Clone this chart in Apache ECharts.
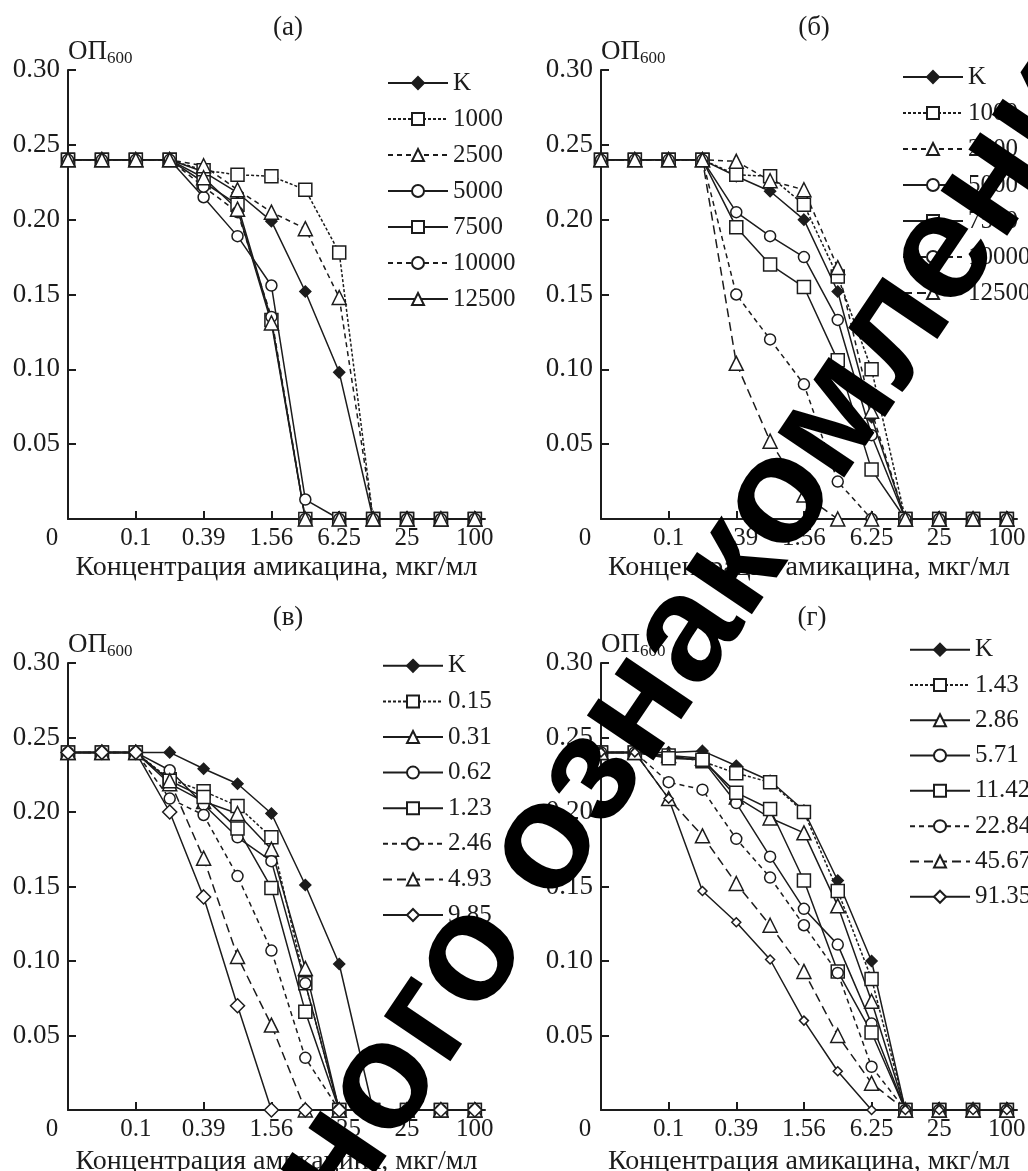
<!DOCTYPE html>
<html lang="ru">
<head>
<meta charset="UTF-8">
<title>ОП600 – амикацин</title>
<script src="https://cdn.jsdelivr.net/npm/echarts@6/dist/echarts.min.js"></script>
<style>
  html, body { margin: 0; padding: 0; background: #fff; }
  #chart { width: 1028px; height: 1171px; }
</style>
</head>
<body>
<div id="chart"></div>
<script>
// ось X: 13 точек двукратных разведений, подписана каждая вторая
var xIdx = [0, 1, 2, 3, 4, 5, 6, 7, 8, 9, 10, 11, 12];
var xTicks = [0, 2, 4, 6, 8, 10, 12];
var xLabels = ['0', '0.1', '0.39', '1.56', '6.25', '25', '100'];
var xAxisName = 'Концентрация амикацина, мкг/мл';
var panelTitles = ['(а)', '(б)', '(в)', '(г)'];

// (а)
var namesA = ['K', '1000', '2500', '5000', '7500', '10000', '12500'];
var aK     = [0.24, 0.24, 0.24, 0.24, 0.232, 0.218, 0.199, 0.152, 0.098, 0, 0, 0, 0];
var a1000  = [0.24, 0.24, 0.24, 0.24, 0.233, 0.230, 0.229, 0.220, 0.178, 0, 0, 0, 0];
var a2500  = [0.24, 0.24, 0.24, 0.24, 0.236, 0.220, 0.205, 0.194, 0.148, 0, 0, 0, 0];
var a5000  = [0.24, 0.24, 0.24, 0.24, 0.215, 0.189, 0.156, 0.013, 0, 0, 0, 0, 0];
var a7500  = [0.24, 0.24, 0.24, 0.24, 0.225, 0.210, 0.133, 0, 0, 0, 0, 0, 0];
var a10000 = [0.24, 0.24, 0.24, 0.24, 0.222, 0.205, 0.135, 0, 0, 0, 0, 0, 0];
var a12500 = [0.24, 0.24, 0.24, 0.24, 0.228, 0.207, 0.131, 0, 0, 0, 0, 0, 0];

// (б)
var namesB = ['K', '1000', '2500', '5000', '7500', '10000', '12500'];
var bK     = [0.24, 0.24, 0.24, 0.24, 0.229, 0.219, 0.200, 0.152, 0.068, 0, 0, 0, 0];
var b1000  = [0.24, 0.24, 0.24, 0.24, 0.230, 0.229, 0.210, 0.162, 0.100, 0, 0, 0, 0];
var b2500  = [0.24, 0.24, 0.24, 0.24, 0.239, 0.226, 0.220, 0.168, 0.072, 0, 0, 0, 0];
var b5000  = [0.24, 0.24, 0.24, 0.24, 0.205, 0.189, 0.175, 0.133, 0.056, 0, 0, 0, 0];
var b7500  = [0.24, 0.24, 0.24, 0.24, 0.195, 0.170, 0.155, 0.106, 0.033, 0, 0, 0, 0];
var b10000 = [0.24, 0.24, 0.24, 0.24, 0.150, 0.120, 0.090, 0.025, 0, 0, 0, 0, 0];
var b12500 = [0.24, 0.24, 0.24, 0.24, 0.104, 0.052, 0.016, 0, 0, 0, 0, 0, 0];

// (в)
var namesC = ['K', '0.15', '0.31', '0.62', '1.23', '2.46', '4.93', '9.85'];
var cK   = [0.24, 0.24, 0.24, 0.24, 0.229, 0.219, 0.199, 0.151, 0.098, 0, 0, 0, 0];
var c015 = [0.24, 0.24, 0.24, 0.222, 0.214, 0.204, 0.183, 0.085, 0, 0, 0, 0, 0];
var c031 = [0.24, 0.24, 0.24, 0.219, 0.207, 0.199, 0.175, 0.095, 0, 0, 0, 0, 0];
var c062 = [0.24, 0.24, 0.24, 0.228, 0.205, 0.183, 0.167, 0.085, 0, 0, 0, 0, 0];
var c123 = [0.24, 0.24, 0.24, 0.221, 0.210, 0.189, 0.149, 0.066, 0, 0, 0, 0, 0];
var c246 = [0.24, 0.24, 0.24, 0.209, 0.198, 0.157, 0.107, 0.035, 0, 0, 0, 0, 0];
var c493 = [0.24, 0.24, 0.24, 0.221, 0.169, 0.103, 0.057, 0, 0, 0, 0, 0, 0];
var c985 = [0.24, 0.24, 0.24, 0.200, 0.143, 0.070, 0, 0, 0, 0, 0, 0, 0];

// (г)
var namesD = ['K', '1.43', '2.86', '5.71', '11.42', '22.84', '45.67', '91.35'];
var dK    = [0.24, 0.24, 0.24, 0.241, 0.231, 0.221, 0.201, 0.154, 0.100, 0, 0, 0, 0];
var d143  = [0.24, 0.24, 0.238, 0.234, 0.226, 0.220, 0.200, 0.147, 0.088, 0, 0, 0, 0];
var d286  = [0.24, 0.24, 0.238, 0.236, 0.210, 0.196, 0.186, 0.137, 0.073, 0, 0, 0, 0];
var d571  = [0.24, 0.24, 0.237, 0.235, 0.206, 0.170, 0.135, 0.111, 0.058, 0, 0, 0, 0];
var d1142 = [0.24, 0.24, 0.236, 0.235, 0.213, 0.202, 0.154, 0.093, 0.052, 0, 0, 0, 0];
var d2284 = [0.24, 0.24, 0.220, 0.215, 0.182, 0.156, 0.124, 0.092, 0.029, 0, 0, 0, 0];
var d4567 = [0.24, 0.24, 0.209, 0.184, 0.152, 0.124, 0.093, 0.050, 0.018, 0, 0, 0, 0];
var d9135 = [0.24, 0.24, 0.209, 0.147, 0.126, 0.101, 0.060, 0.026, 0, 0, 0, 0, 0];

var FONT = 'Liberation Serif';
var INK = '#1c1c1c';

// маркеры и штрихи
var DOT = [3, 2], DASH = [5, 4], LONG = [9, 5];
var looks = {
  K:       { symbol: 'diamond',  size: 11, fill: INK,    dash: 'solid' },
  sqDot:   { symbol: 'rect',     size: 13, fill: '#fff', dash: DOT },
  triDash: { symbol: 'triangle', size: 14, fill: '#fff', dash: DASH },
  circ:    { symbol: 'circle',   size: 11, fill: '#fff', dash: 'solid' },
  sq:      { symbol: 'rect',     size: 13, fill: '#fff', dash: 'solid' },
  circDash:{ symbol: 'circle',   size: 11, fill: '#fff', dash: DASH },
  tri:     { symbol: 'triangle', size: 14, fill: '#fff', dash: 'solid' },
  triLong: { symbol: 'triangle', size: 14, fill: '#fff', dash: LONG },
  dia:     { symbol: 'diamond',  size: 14, fill: '#fff', dash: 'solid' },
  diaS:    { symbol: 'diamond',  size: 9,  fill: '#fff', dash: 'solid' }
};

var panels = [
  { key: 'a', names: namesA, data: [aK, a1000, a2500, a5000, a7500, a10000, a12500],
    look: ['K', 'sqDot', 'triDash', 'circ', 'sq', 'circDash', 'tri'],
    grid: { left: 68, top: 70, width: 417, height: 449 }, nameGap: 35,
    title: [288, 14], legend: [387, 65, 36] },
  { key: 'b', names: namesB, data: [bK, b1000, b2500, b5000, b7500, b10000, b12500],
    look: ['K', 'sqDot', 'triDash', 'circ', 'sq', 'circDash', 'triLong'],
    grid: { left: 601, top: 70, width: 416, height: 449 }, nameGap: 35,
    title: [814, 14], legend: [902, 59, 36] },
  { key: 'c', names: namesC, data: [cK, c015, c031, c062, c123, c246, c493, c985],
    look: ['K', 'sqDot', 'tri', 'circ', 'sq', 'circDash', 'triLong', 'dia'],
    grid: { left: 68, top: 663, width: 417, height: 447 }, nameGap: 38,
    title: [288, 604], legend: [382, 648, 35.6] },
  { key: 'd', names: namesD, data: [dK, d143, d286, d571, d1142, d2284, d4567, d9135],
    look: ['K', 'sqDot', 'tri', 'circ', 'sq', 'circDash', 'triLong', 'diaS'],
    grid: { left: 601, top: 663, width: 416, height: 447 }, nameGap: 38,
    title: [812, 604], legend: [909, 632, 35.3] }
];

var grids = [], xAxes = [], yAxes = [], legends = [], titles = [], series = [];
var axisLine = { color: INK, width: 2 };

panels.forEach(function (p, gi) {
  var g = p.grid;
  grids.push({ left: g.left, top: g.top, width: g.width, height: g.height, outerBoundsMode: 'none' });
  titles.push({
    text: panelTitles[gi], left: p.title[0], top: p.title[1], textAlign: 'center', padding: 0,
    textStyle: { fontFamily: FONT, fontSize: 27, fontWeight: 'normal', color: INK }
  });
  xAxes.push({
    type: 'value', gridIndex: gi, min: 0, max: 12.3, interval: 2,
    axisLine: { lineStyle: axisLine },
    axisTick: { inside: true, length: 8, customValues: [2, 4, 6, 8, 10, 12], lineStyle: axisLine },
    axisLabel: {
      customValues: xTicks, margin: 7, color: INK, fontFamily: FONT, fontSize: 25,
      formatter: function (v) { return v === 0 ? '{z|0}' : xLabels[v / 2]; },
      rich: { z: { fontFamily: FONT, fontSize: 25, color: INK, padding: [0, 32, 0, 0] } }
    },
    splitLine: { show: false },
    name: xAxisName, nameLocation: 'middle', nameGap: p.nameGap,
    nameTextStyle: { fontFamily: FONT, fontSize: 28, color: INK }
  });
  yAxes.push({
    type: 'value', gridIndex: gi, min: 0, max: 0.3, interval: 0.05,
    axisLine: { show: true, lineStyle: axisLine },
    axisTick: { show: true, inside: true, length: 8, lineStyle: axisLine },
    axisLabel: {
      margin: 8, color: INK, fontFamily: FONT, fontSize: 27,
      formatter: function (v) { return v === 0 ? '' : v.toFixed(2); }
    },
    splitLine: { show: false },
    name: '{m|ОП}{s|600}', nameLocation: 'end', nameGap: 18,
    nameTextStyle: {
      align: 'left', verticalAlign: 'middle',
      rich: {
        m: { fontFamily: FONT, fontSize: 27, color: INK, lineHeight: 30 },
        s: { fontFamily: FONT, fontSize: 17, color: INK, lineHeight: 15, verticalAlign: 'bottom' }
      }
    }
  });
  legends.push({
    orient: 'vertical', left: p.legend[0], top: p.legend[1], padding: 0,
    itemWidth: 60, itemHeight: 15, itemGap: 0, selectedMode: false,
    data: p.names.map(function (n) { return p.key + '|' + n; }),
    formatter: function (n) { return n.split('|')[1]; },
    textStyle: { fontFamily: FONT, fontSize: 25, color: INK, lineHeight: p.legend[2] }
  });
  p.names.forEach(function (n, si) {
    var lk = looks[p.look[si]];
    series.push({
      name: p.key + '|' + n, type: 'line', xAxisIndex: gi, yAxisIndex: gi,
      data: xIdx.map(function (x, i) { return [x, p.data[si][i]]; }),
      symbol: lk.symbol, symbolSize: lk.size, showSymbol: true,
      lineStyle: { color: INK, width: 1.5, type: lk.dash },
      itemStyle: { color: lk.fill, borderColor: INK, borderWidth: 1.5 },
      emphasis: { disabled: true }, silent: true
    });
  });
});

var chart = echarts.init(document.getElementById('chart'));
chart.setOption({
  animation: false,
  backgroundColor: '#fff',
  title: titles,
  grid: grids,
  xAxis: xAxes,
  yAxis: yAxes,
  legend: legends,
  series: series,
  graphic: [{
    type: 'text', x: 543, y: 849, rotation: 56 * Math.PI / 180, z: 100, silent: true,
    style: {
      text: 'бесплатного ознакомления', fill: '#000',
      fontFamily: 'Liberation Sans', fontWeight: 'bold', fontSize: 152,
      align: 'center', verticalAlign: 'middle'
    }
  }]
});
</script>
</body>
</html>
